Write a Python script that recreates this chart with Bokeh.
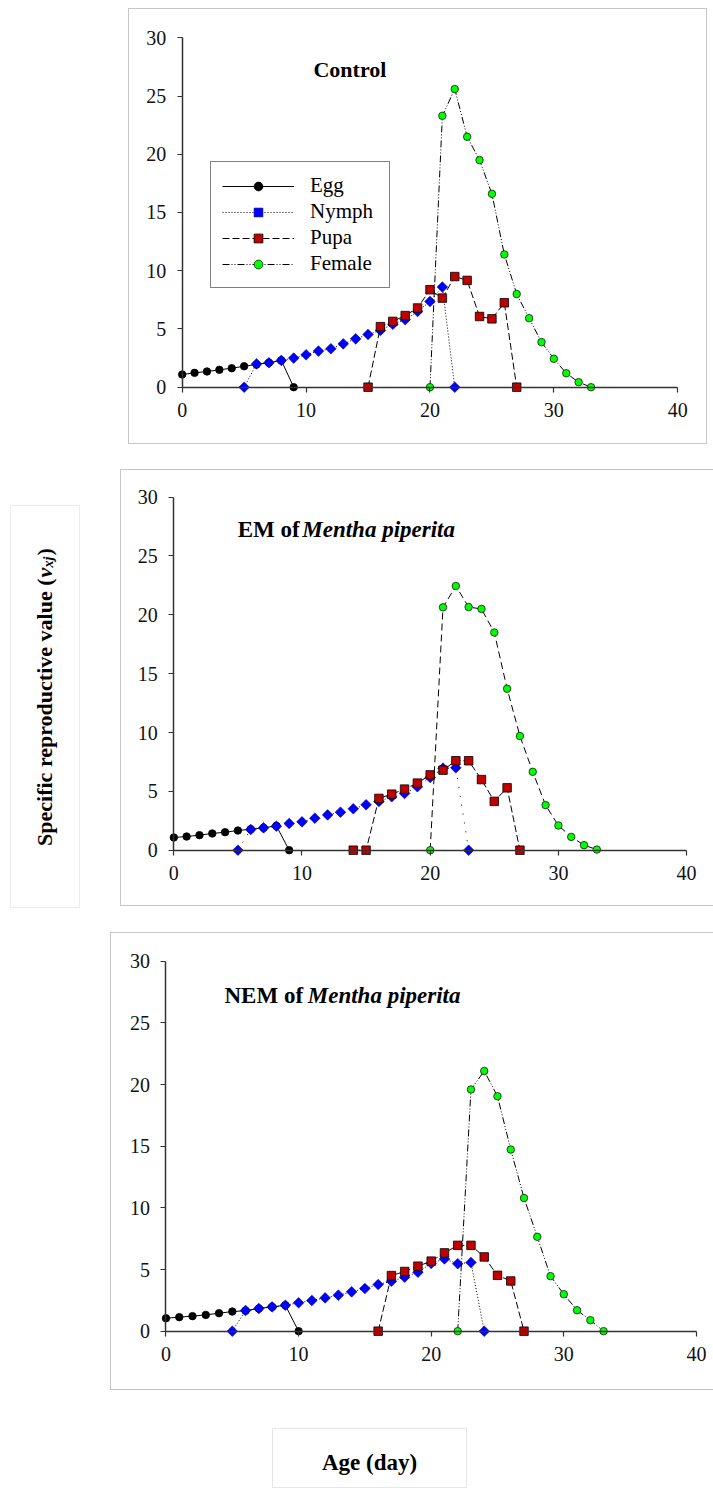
import numpy as np
from bokeh.plotting import figure
from bokeh.models import (LinearAxis, FixedTicker, Label, Legend, LegendItem,
                          Range1d, Spacer)
from bokeh.layouts import column, row
from bokeh.embed import file_html
from bokeh.resources import INLINE

# ---------------- data ----------------
x_ticks = [0, 10, 20, 30, 40]
y_ticks = [0, 5, 10, 15, 20, 25, 30]
stage_names = ["Egg", "Nymph", "Pupa", "Female"]

# Control
ctrl_egg_day = list(range(0, 10))
ctrl_egg = [1.09, 1.23, 1.35, 1.49, 1.63, 1.80, 1.95, 2.10, 2.30, 0]
ctrl_nymph_day = list(range(5, 23))
ctrl_nymph = [0, 2.0, 2.1, 2.3, 2.5, 2.78, 3.1, 3.3, 3.72, 4.15, 4.53, 4.87,
              5.4, 5.8, 6.5, 7.36, 8.6, 0]
ctrl_pupa_day = list(range(15, 28))
ctrl_pupa = [0, 5.2, 5.65, 6.15, 6.8, 8.37, 7.65, 9.5, 9.17, 6.07, 5.87, 7.25, 0]
ctrl_female_day = list(range(20, 34))
ctrl_female = [0, 23.3, 25.6, 21.5, 19.5, 16.6, 11.4, 8.0, 5.93, 3.87, 2.44,
               1.2, 0.43, 0]

# EM of Mentha piperita
em_egg_day = list(range(0, 10))
em_egg = [1.08, 1.16, 1.28, 1.42, 1.53, 1.67, 1.78, 1.9, 2.07, 0]
em_nymph_day = list(range(5, 24))
em_nymph = [0, 1.76, 1.9, 2.04, 2.27, 2.41, 2.72, 3.0, 3.23, 3.52, 3.86, 4.14,
            4.54, 4.82, 5.39, 6.18, 6.97, 7.0, 0]
em_pupa_day = list(range(14, 28))
em_pupa = [0, 0, 4.4, 4.76, 5.19, 5.7, 6.4, 6.8, 7.6, 7.6, 6.0, 4.15, 5.3, 0]
em_female_day = list(range(20, 34))
em_female = [0, 20.64, 22.45, 20.66, 20.5, 18.5, 13.72, 9.7, 6.66, 3.83, 2.1,
             1.13, 0.43, 0.05]

# NEM of Mentha piperita
nem_egg_day = list(range(0, 11))
nem_egg = [1.05, 1.14, 1.22, 1.32, 1.46, 1.59, 1.66, 1.84, 1.97, 2.1, 0]
nem_nymph_day = list(range(5, 25))
nem_nymph = [0, 1.68, 1.84, 1.97, 2.1, 2.3, 2.49, 2.7, 2.92, 3.19, 3.46, 3.78,
             4.05, 4.38, 4.78, 5.5, 5.86, 5.47, 5.57, 0]
nem_pupa_day = list(range(16, 28))
nem_pupa = [0, 4.51, 4.84, 5.27, 5.68, 6.35, 6.96, 6.96, 6.02, 4.53, 4.07, 0]
nem_female_day = list(range(22, 34))
nem_female = [0, 19.6, 21.1, 19.05, 14.73, 10.8, 7.65, 4.46, 3.0, 1.7, 0.89, 0]

# ---------------- styling ----------------
SERIF = "Liberation Serif"
AXIS_COLOR = "#333333"


def make_panel(width, height, xr, yr, box_style):
    p = figure(width=width, height=height, x_range=Range1d(*xr),
               y_range=Range1d(*yr), x_axis_type=None, y_axis_type=None,
               toolbar_location=None, output_backend="svg", min_border=0)
    p.background_fill_color = None
    p.border_fill_color = None
    p.outline_line_color = None
    p.styles = box_style
    xa = LinearAxis(fixed_location=0, bounds=(0, 40),
                    ticker=FixedTicker(ticks=x_ticks))
    ya = LinearAxis(fixed_location=0, bounds=(0, 30),
                    ticker=FixedTicker(ticks=y_ticks))
    for ax in (xa, ya):
        ax.axis_line_color = AXIS_COLOR
        ax.axis_line_width = 1.5
        ax.major_tick_line_color = AXIS_COLOR
        ax.major_tick_line_width = 1.2
        ax.major_tick_in = 0
        ax.major_tick_out = 5
        ax.minor_tick_line_color = None
        ax.major_label_text_font = SERIF
        ax.major_label_text_font_size = "20px"
        ax.major_label_text_color = "#111111"
        ax.major_label_standoff = 11
    p.add_layout(xa, "below")
    p.add_layout(ya, "left")
    return p


def add_series(p, days, vals, dash, marker, size, fill, line, angle=0.0,
               lw=0.8):
    ln = p.line(days, vals, line_color="#000000", line_width=1,
                line_dash=dash)
    sc = p.scatter(days, vals, marker=marker, size=size, angle=angle,
                   fill_color=fill, line_color=line, line_width=lw)
    return ln, sc


def add_all(p, egg, nymph, pupa, female, nymph_dash, female_dash):
    r = []
    r.append(add_series(p, egg[0], egg[1], "solid", "circle", 7.5,
                        "#000000", "#000000"))
    r.append(add_series(p, nymph[0], nymph[1], nymph_dash, "square", 7.5,
                        "#0000ff", "#000080", angle=np.pi / 4, lw=0.6))
    r.append(add_series(p, pupa[0], pupa[1], "7 3", "square", 8.5,
                        "#c00000", "#000000"))
    r.append(add_series(p, female[0], female[1], female_dash, "circle", 7.5,
                        "#00ff00", "#1a1a1a"))
    return r


BOX4 = {"box-shadow": "inset 0 0 0 1px #c6c6c6"}
BOX3 = {"box-shadow": "inset 1px 0 0 #c6c6c6, inset 0 1px 0 #c6c6c6, "
                      "inset 0 -1px 0 #c6c6c6"}

# ---- panel 1: Control ----
p1 = make_panel(579, 436, (-4.334, 42.40), (-4.92, 32.515), BOX4)
r1 = add_all(p1, (ctrl_egg_day, ctrl_egg), (ctrl_nymph_day, ctrl_nymph),
             (ctrl_pupa_day, ctrl_pupa), (ctrl_female_day, ctrl_female),
             "1 2", "7 2 1 2 1 2")
p1.add_layout(Label(x=13.54, y=27.25, text="Control", text_font=SERIF,
                    text_font_size="22px", text_font_style="bold",
                    text_align="center", text_baseline="alphabetic",
                    text_color="#000000"))
legend = Legend(
    items=[LegendItem(label=n, renderers=list(rr))
           for n, rr in zip(stage_names, r1)],
    location=(82, 156), label_text_font=SERIF, label_text_font_size="21px",
    label_text_color="#000000", glyph_width=72, glyph_height=22,
    label_height=24, spacing=1, padding=11, label_standoff=16,
    label_width=68, border_line_color="#000000", border_line_width=1,
    background_fill_color="white", background_fill_alpha=1.0, margin=0)
p1.add_layout(legend)

# ---- panel 2: EM ----
p2 = make_panel(593, 437, (-4.158, 42.10), (-4.785, 32.35), BOX3)
add_all(p2, (em_egg_day, em_egg), (em_nymph_day, em_nymph),
        (em_pupa_day, em_pupa), (em_female_day, em_female),
        "1 8", "7 4")
p2.add_layout(Label(x=4.99, y=27.23, text="EM of", text_font=SERIF,
                    text_font_size="23px", text_font_style="bold",
                    text_align="left", text_baseline="alphabetic",
                    text_color="#000000"))
p2.add_layout(Label(x=10.02, y=27.23, text="Mentha piperita",
                    text_font=SERIF, text_font_size="23px",
                    text_font_style="bold italic", text_align="left",
                    text_baseline="alphabetic", text_color="#000000"))

# ---- panel 3: NEM ----
p3 = make_panel(603, 458, (-4.185, 41.29), (-4.81, 32.33), BOX3)
add_all(p3, (nem_egg_day, nem_egg), (nem_nymph_day, nem_nymph),
        (nem_pupa_day, nem_pupa), (nem_female_day, nem_female),
        "1 2", "7 2 1 2 1 2")
p3.add_layout(Label(x=4.41, y=27.22, text="NEM of", text_font=SERIF,
                    text_font_size="23px", text_font_style="bold",
                    text_align="left", text_baseline="alphabetic",
                    text_color="#000000"))
p3.add_layout(Label(x=10.69, y=27.22, text="Mentha piperita",
                    text_font=SERIF, text_font_size="23px",
                    text_font_style="bold italic", text_align="left",
                    text_baseline="alphabetic", text_color="#000000"))

# ---- y title box ----
yt = figure(width=70, height=403, x_range=Range1d(0, 70),
            y_range=Range1d(0, 403), x_axis_type=None, y_axis_type=None,
            toolbar_location=None, output_backend="svg", min_border=0)
yt.background_fill_color = None
yt.border_fill_color = None
yt.outline_line_color = None
yt.styles = {"box-shadow": "inset 0 0 0 1px #ececec"}
common = dict(angle=90, angle_units="deg", text_font=SERIF,
              text_baseline="alphabetic", text_color="#000000")
yt.add_layout(Label(x=34, y=330, text="Specific reproductive value (",
                    text_font_size="22px", text_font_style="bold",
                    text_align="right", **common))
yt.add_layout(Label(x=34, y=331, text="v", text_font_size="22px",
                    text_font_style="bold italic", text_align="left",
                    **common))
yt.add_layout(Label(x=38, y=341, text="xj", text_font_size="14px",
                    text_font_style="bold italic", text_align="left",
                    **common))
yt.add_layout(Label(x=34, y=353, text=")", text_font_size="22px",
                    text_font_style="bold", text_align="left", **common))

# ---- x title box ----
xt = figure(width=195, height=60, x_range=Range1d(0, 195),
            y_range=Range1d(0, 60), x_axis_type=None, y_axis_type=None,
            toolbar_location=None, output_backend="svg", min_border=0)
xt.background_fill_color = None
xt.border_fill_color = None
xt.outline_line_color = None
xt.styles = {"box-shadow": "inset 0 0 0 1px #e6e6e6"}
xt.add_layout(Label(x=97, y=26, text="Age (day)", text_font=SERIF,
                    text_font_size="23px", text_font_style="bold",
                    text_align="center", text_baseline="alphabetic",
                    text_color="#000000"))

layout = column(
    Spacer(width=713, height=8),
    row(Spacer(width=128, height=10), p1),
    Spacer(width=10, height=25),
    row(Spacer(width=10, height=10),
        column(Spacer(width=10, height=36), yt),
        Spacer(width=40, height=10), p2),
    Spacer(width=10, height=24),
    row(Spacer(width=110, height=10), p3),
    Spacer(width=10, height=38),
    row(Spacer(width=272, height=10), xt),
)

open("out.html", "w").write(file_html(layout, INLINE))
